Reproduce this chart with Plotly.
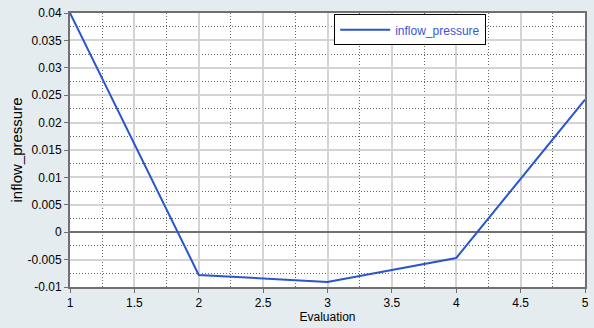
import plotly.graph_objects as go

evaluation = [1, 2, 3, 4, 5]
inflow_pressure = [0.04, -0.0078, -0.0091, -0.0047, 0.0242]
x_ticks = [1, 1.5, 2, 2.5, 3, 3.5, 4, 4.5, 5]
y_ticks = [-0.01, -0.005, 0, 0.005, 0.01, 0.015, 0.02, 0.025, 0.03, 0.035, 0.04]

fig = go.Figure()
fig.add_trace(go.Scatter(x=evaluation, y=inflow_pressure, mode="lines",
                         name="inflow_pressure",
                         line=dict(color="#2b55cc", width=2)))

font = "Liberation Sans, Arial, sans-serif"
fig.update_layout(
    width=594, height=328,
    margin=dict(l=70, r=5, t=13, b=41),
    paper_bgcolor="#e4ecef",
    plot_bgcolor="white",
    font=dict(family=font, size=12, color="black"),
    showlegend=True,
    legend=dict(x=0.513, y=0.995, xanchor="left", yanchor="top",
                bgcolor="white", bordercolor="black", borderwidth=1,
                font=dict(color="#3a55d8", size=12),
                itemwidth=50, tracegroupgap=0),
    xaxis=dict(range=[1, 5], tickvals=x_ticks,
               ticktext=[f"{v:g}" for v in x_ticks],
               showgrid=True, gridcolor="#d4d4d4", gridwidth=2,
               minor=dict(dtick=0.25, tick0=1, showgrid=True, gridcolor="#666666",
                          griddash="1px,2px", gridwidth=1),
               showline=True, linecolor="#707070", linewidth=2, mirror=True,
               ticks="outside", ticklen=4, tickcolor="#707070",
               zeroline=False,
               title=dict(text="Evaluation", font=dict(size=12), standoff=2)),
    yaxis=dict(range=[-0.01, 0.04], tickvals=y_ticks,
               ticktext=[f"{v:g}" for v in y_ticks],
               showgrid=True, gridcolor="#d4d4d4", gridwidth=2,
               minor=dict(dtick=0.0025, tick0=0, showgrid=True, gridcolor="#666666",
                          griddash="1px,2px", gridwidth=1),
               showline=True, linecolor="#707070", linewidth=2, mirror=True,
               ticks="outside", ticklen=4, tickcolor="#707070",
               zeroline=True, zerolinecolor="#707070", zerolinewidth=2,
               title=dict(text="inflow_pressure", font=dict(size=15), standoff=1)),
)
fig.write_html("out.html")
